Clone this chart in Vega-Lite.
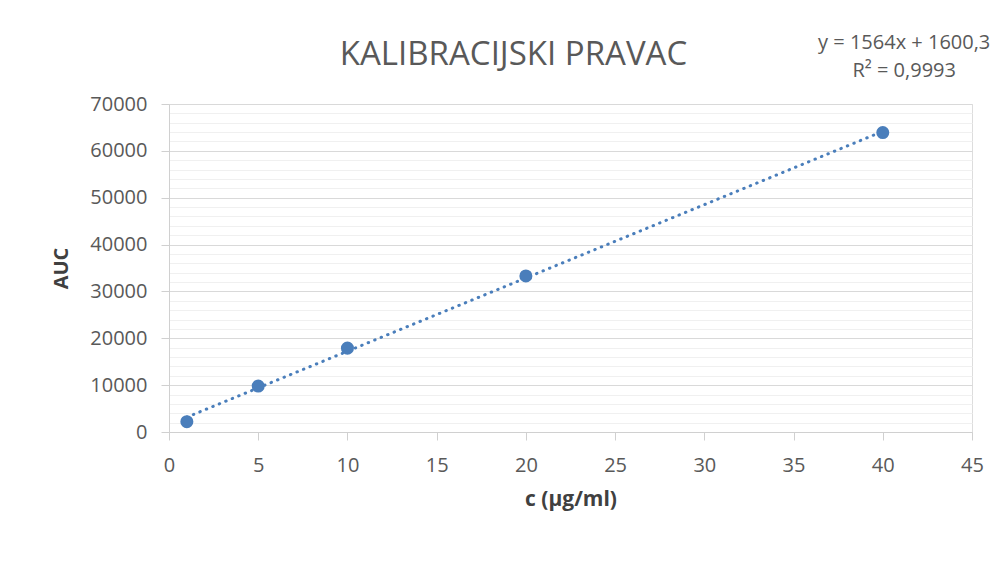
{
  "$schema": "https://vega.github.io/schema/vega-lite/v6.json",
  "width": 803,
  "height": 328,
  "autosize": "none",
  "padding": {"left": 169, "top": 104, "right": 32, "bottom": 136},
  "background": "white",
  "title": {
    "text": "KALIBRACIJSKI PRAVAC",
    "frame": "group",
    "font": "Open Sans",
    "fontSize": 33,
    "fontWeight": "normal",
    "color": "#595959",
    "anchor": "middle",
    "dx": -57,
    "offset": -39
  },
  "config": {
    "axisX": {
      "grid": false,
      "domainColor": "#d0d0d0",
      "tickColor": "#d0d0d0",
      "tickSize": 8,
      "labelFont": "Open Sans",
      "labelFontSize": 20,
      "labelColor": "#595959",
      "labelPadding": 15,
      "labelFlush": false,
      "titleFont": "Open Sans",
      "titleFontSize": 21,
      "titleFontWeight": "bold",
      "titleColor": "#404040",
      "titlePadding": 13
    },
    "axisY": {
      "grid": true,
      "gridWidth": 1,
      "labelOverlap": false,
      "labelFlush": false,
      "domainColor": "#d0d0d0",
      "tickColor": "#d0d0d0",
      "tickSize": 8,
      "labelFont": "Open Sans",
      "labelFontSize": 20,
      "labelColor": "#595959",
      "labelPadding": 14,
      "titleFont": "Open Sans",
      "titleFontSize": 20,
      "titleFontWeight": "bold",
      "titleColor": "#404040",
      "titlePadding": 18
    }
  },
  "datasets": {
    "points": [
      {"c": 1, "auc": 2200},
      {"c": 5, "auc": 9800},
      {"c": 10, "auc": 17900},
      {"c": 20, "auc": 33300},
      {"c": 40, "auc": 63900}
    ],
    "trend": [
      {"c": 1, "auc": 3164.3},
      {"c": 40, "auc": 64160.3}
    ],
    "equation": [
      {"line": 1, "label": "y = 1564x + 1600,3"},
      {"line": 2, "label": "R² = 0,9993"}
    ]
  },
  "layer": [
    {
      "data": {"name": "trend"},
      "mark": {"type": "line", "color": "#4a7ebb", "strokeWidth": 3, "strokeCap": "round", "strokeDash": [0.5, 6.5]},
      "encoding": {
        "x": {
          "field": "c", "type": "quantitative", "title": "c (µg/ml)",
          "scale": {"domain": [0, 45], "nice": false, "zero": false},
          "axis": {"title": "c (µg/ml)", "values": [0, 5, 10, 15, 20, 25, 30, 35, 40, 45]}
        },
        "y": {
          "field": "auc", "type": "quantitative", "title": "AUC",
          "scale": {"domain": [0, 70000], "nice": false},
          "axis": {
            "title": "AUC",
            "values": [0, 2000, 4000, 6000, 8000, 10000, 12000, 14000, 16000, 18000, 20000, 22000, 24000, 26000, 28000, 30000, 32000, 34000, 36000, 38000, 40000, 42000, 44000, 46000, 48000, 50000, 52000, 54000, 56000, 58000, 60000, 62000, 64000, 66000, 68000, 70000],
            "format": "d",
            "labelExpr": "datum.value % 10000 === 0 ? datum.label : ''",
            "gridColor": {"condition": {"test": "datum.value % 10000 === 0", "value": "#d9d9d9"}, "value": "#f0f0f0"},
            "tickOpacity": {"condition": {"test": "datum.value % 10000 === 0", "value": 1}, "value": 0}
          }
        }
      }
    },
    {
      "data": {"name": "points"},
      "mark": {"type": "point", "filled": true, "color": "#4a7ebb", "opacity": 1, "size": 170},
      "encoding": {
        "x": {
          "field": "c", "type": "quantitative", "title": "c (µg/ml)",
          "scale": {"domain": [0, 45], "nice": false, "zero": false},
          "axis": {"title": "c (µg/ml)", "values": [0, 5, 10, 15, 20, 25, 30, 35, 40, 45]}
        },
        "y": {
          "field": "auc", "type": "quantitative", "title": "AUC",
          "scale": {"domain": [0, 70000], "nice": false},
          "axis": {
            "title": "AUC",
            "values": [0, 2000, 4000, 6000, 8000, 10000, 12000, 14000, 16000, 18000, 20000, 22000, 24000, 26000, 28000, 30000, 32000, 34000, 36000, 38000, 40000, 42000, 44000, 46000, 48000, 50000, 52000, 54000, 56000, 58000, 60000, 62000, 64000, 66000, 68000, 70000],
            "format": "d",
            "labelExpr": "datum.value % 10000 === 0 ? datum.label : ''",
            "gridColor": {"condition": {"test": "datum.value % 10000 === 0", "value": "#d9d9d9"}, "value": "#f0f0f0"},
            "tickOpacity": {"condition": {"test": "datum.value % 10000 === 0", "value": 1}, "value": 0}
          }
        }
      }
    },
    {
      "data": {"name": "equation"},
      "mark": {
        "type": "text",
        "font": "Open Sans",
        "fontSize": 20,
        "color": "#595959",
        "align": "center",
        "baseline": "middle",
        "yOffset": {"expr": "datum.line === 1 ? -14 : 14"}
      },
      "encoding": {
        "x": {
          "datum": 41.2, "type": "quantitative", "title": "c (µg/ml)",
          "scale": {"domain": [0, 45], "nice": false, "zero": false},
          "axis": {"title": "c (µg/ml)", "values": [0, 5, 10, 15, 20, 25, 30, 35, 40, 45]}
        },
        "y": {
          "datum": 80000, "type": "quantitative", "title": "AUC",
          "scale": {"domain": [0, 70000], "nice": false},
          "axis": {
            "title": "AUC",
            "values": [0, 2000, 4000, 6000, 8000, 10000, 12000, 14000, 16000, 18000, 20000, 22000, 24000, 26000, 28000, 30000, 32000, 34000, 36000, 38000, 40000, 42000, 44000, 46000, 48000, 50000, 52000, 54000, 56000, 58000, 60000, 62000, 64000, 66000, 68000, 70000],
            "format": "d",
            "labelExpr": "datum.value % 10000 === 0 ? datum.label : ''",
            "gridColor": {"condition": {"test": "datum.value % 10000 === 0", "value": "#d9d9d9"}, "value": "#f0f0f0"},
            "tickOpacity": {"condition": {"test": "datum.value % 10000 === 0", "value": 1}, "value": 0}
          }
        },
        "text": {"field": "label", "type": "nominal"}
      }
    }
  ]
}
